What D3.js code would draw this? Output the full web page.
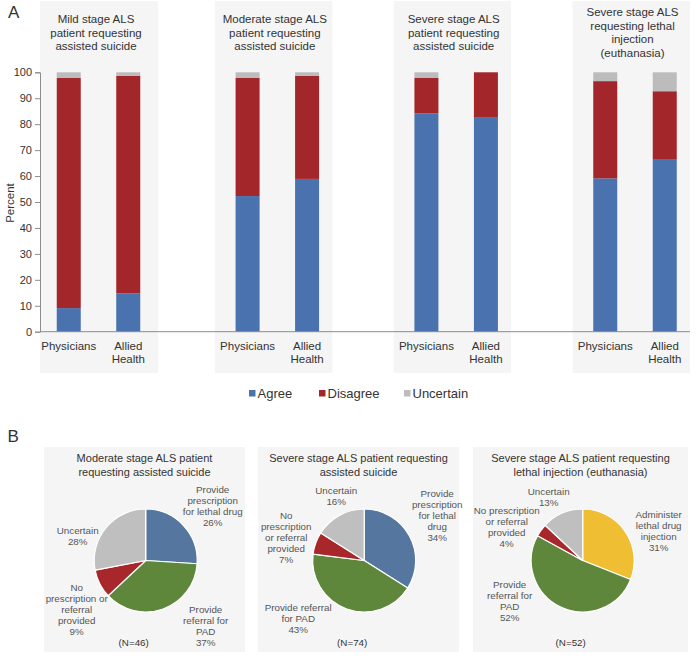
<!DOCTYPE html>
<html><head><meta charset="utf-8">
<script src="https://cdn.jsdelivr.net/npm/d3@7"></script>
<style>
html,body{margin:0;padding:0;background:#fff;}
svg{display:block;font-family:"Liberation Sans",Arial,sans-serif;}
</style></head>
<body>
<script>
// ---------- DATA ----------
const groupTitles = [
  ["Mild stage ALS", "patient requesting", "assisted suicide"],
  ["Moderate stage ALS", "patient requesting", "assisted suicide"],
  ["Severe stage ALS", "patient requesting", "assisted suicide"],
  ["Severe stage ALS", "requesting lethal", "injection", "(euthanasia)"]
];
const roles = ["Physicians", "Allied Health"];
const seriesNames = ["Agree", "Disagree", "Uncertain"];
// order: [g1 Phys, g1 Allied, g2 Phys, g2 Allied, ...]
const agree     = [9.1, 14.8, 52.3, 58.9, 84.2, 82.5, 59.1, 66.3];
const disagree  = [88.7, 83.9, 45.5, 39.8, 13.6, 17.5, 37.5, 26.4];
const uncertain = [2.2, 1.3, 2.2, 1.3, 2.2, 0.0, 3.4, 7.3];
const yTicks = [0,10,20,30,40,50,60,70,80,90,100];

const pieTitles = [
  ["Moderate stage ALS patient", "requesting assisted suicide"],
  ["Severe stage ALS patient requesting", "assisted suicide"],
  ["Severe stage ALS patient requesting", "lethal injection (euthanasia)"]
];
const pieN = ["(N=46)", "(N=74)", "(N=52)"];
const pieCategories = [
  ["Provide prescription for lethal drug", "Provide referral for PAD", "No prescription or referral provided", "Uncertain"],
  ["Provide prescription for lethal drug", "Provide referral for PAD", "No prescription or referral provided", "Uncertain"],
  ["Administer lethal drug injection", "Provide referral for PAD", "No prescription or referral provided", "Uncertain"]
];
const pieValues = [
  [26, 37, 9, 28],
  [34, 43, 7, 16],
  [31, 52, 4, 13]
];
// label line breaks (text only)
const pieLabelLines = [
  [["Provide","prescription","for lethal drug","26%"], ["Provide","referral for","PAD","37%"], ["No","prescription or","referral","provided","9%"], ["Uncertain","28%"]],
  [["Provide","prescription","for lethal","drug","34%"], ["Provide referral","for PAD","43%"], ["No","prescription","or referral","provided","7%"], ["Uncertain","16%"]],
  [["Administer","lethal drug","injection","31%"], ["Provide","referral for","PAD","52%"], ["No prescription","or referral","provided","4%"], ["Uncertain","13%"]]
];

// ---------- STYLE / LAYOUT ----------
const barColors = {Agree:"#4a72ae", Disagree:"#a3262b", Uncertain:"#bcbcbc"};
const pieColorSets = [
  ["#54769f", "#5f873c", "#a8272b", "#bfbfbf"],
  ["#54769f", "#5f873c", "#a8272b", "#bfbfbf"],
  ["#efbe32", "#5f873c", "#a8272b", "#bfbfbf"]
];
// label anchors relative to pie center: [dx, dy of first line center]
const pieLabelOffsets = [
  [[67,-71],[60,49],[-69,27],[-68,-30]],
  [[73,-67],[-66,47],[-78,-45],[-28,-70]],
  [[76,-46],[-73,24],[-76,-50],[-34,-69]]
];

const W = 696, H = 659;
const svg = d3.select("body").append("svg").attr("width", W).attr("height", H);
const textCol = "#333333";

// ---------- PANEL A ----------
const y = d3.scaleLinear().domain([0,100]).range([331.7, 72.3]);
const gx = d3.scalePoint().domain(d3.range(4)).range([98.5, 635]);
const rx = d3.scalePoint().domain(roles).range([-29.75, 29.75]);
const barW = 24;

// backgrounds
groupTitles.forEach((t,i)=>{
  const c = gx(i);
  const x0 = Math.max(40, c - 62.5);
  const x1 = i === 0 ? c + 59.5 : c + 55;
  svg.append("rect").attr("x", x0).attr("y", 1).attr("width", x1 - x0).attr("height", 372)
    .attr("fill", "#f5f5f5");
  const lh = 13.5;
  const y0 = t.length === 4 ? 12.3 : 19.3;
  const tt = svg.append("text").attr("x", c - 2.5).attr("text-anchor","middle")
    .attr("font-size", 11.5).attr("fill", textCol);
  t.forEach((line,k)=>{
    tt.append("tspan").attr("x", c - 2.5).attr("y", y0 + k*lh).attr("dominant-baseline","central").text(line);
  });
});

// stacked data
const rows = agree.map((a,i)=>({g: Math.floor(i/2), role: roles[i%2], Agree:a, Disagree:disagree[i], Uncertain:uncertain[i]}));
const stack = d3.stack().keys(seriesNames)(rows);
svg.append("g").selectAll("g").data(stack).join("g")
  .attr("fill", d=>barColors[d.key])
  .selectAll("rect").data(d=>d).join("rect")
  .attr("x", d=>gx(d.data.g) + rx(d.data.role) - barW/2)
  .attr("width", barW)
  .attr("y", d=>y(d[1]))
  .attr("height", d=>Math.max(0, y(d[0]) - y(d[1])));

// y axis
const yAxis = svg.append("g").attr("transform","translate(40,0)")
  .call(d3.axisLeft(y).tickValues(yTicks).tickSize(5).tickPadding(3));
yAxis.select(".domain").attr("stroke","#8c8c8c");
yAxis.selectAll(".tick line").attr("stroke","#8c8c8c");
yAxis.selectAll(".tick text").attr("font-size", 11).attr("fill", textCol).attr("font-family","Liberation Sans, Arial, sans-serif");

// baseline
svg.append("line").attr("x1",40).attr("x2",690).attr("y1",y(0)).attr("y2",y(0))
  .attr("stroke","#8c8c8c").attr("stroke-width",1);

// x labels
rows.forEach(r=>{
  const cx = gx(r.g) + rx(r.role);
  const words = r.role === "Allied Health" ? ["Allied","Health"] : [r.role];
  const t = svg.append("text").attr("text-anchor","middle").attr("font-size",11.5).attr("fill",textCol);
  words.forEach((w,k)=>t.append("tspan").attr("x",cx).attr("y",345.7 + k*12.8).attr("dominant-baseline","central").text(w));
});

// y title
svg.append("text").attr("transform","translate(10,203) rotate(-90)")
  .attr("text-anchor","middle").attr("dominant-baseline","central")
  .attr("font-size",11.5).attr("fill",textCol).text("Percent");

// panel letters
svg.append("text").attr("x",8).attr("y",12.5).attr("dominant-baseline","central")
  .attr("font-size",17).attr("fill",textCol).text("A");
svg.append("text").attr("x",7.5).attr("y",436.7).attr("dominant-baseline","central")
  .attr("font-size",17).attr("fill",textCol).text("B");

// legend
const legX = [249, 319, 404];
seriesNames.forEach((s,i)=>{
  svg.append("rect").attr("x",legX[i]).attr("y",390).attr("width",6.5).attr("height",6.5).attr("fill",barColors[s]);
  svg.append("text").attr("x",legX[i]+8.5).attr("y",393.5).attr("dominant-baseline","central")
    .attr("font-size",13).attr("fill",textCol).text(s);
});

// ---------- PANEL B ----------
const pcx = d3.scalePoint().domain(d3.range(3)).range([145.7, 582.7]);
const pcy = 560.5;
const R = 51.5;
const pie = d3.pie().sort(null).value(d=>d);
const arc = d3.arc().innerRadius(0).outerRadius(R);
const panelBounds = [[44,245],[258,459],[473,688]];

pieValues.forEach((vals,i)=>{
  const cx = pcx(i);
  svg.append("rect").attr("x",panelBounds[i][0]).attr("y",447)
    .attr("width",panelBounds[i][1]-panelBounds[i][0]).attr("height",205).attr("fill","#f5f5f5");
  const tt = svg.append("text").attr("text-anchor","middle").attr("font-size",11).attr("fill",textCol);
  const tcx = (panelBounds[i][0]+panelBounds[i][1])/2;
  pieTitles[i].forEach((l,k)=>tt.append("tspan").attr("x",tcx).attr("y",458 + k*13.5).attr("dominant-baseline","central").text(l));

  const g = svg.append("g").attr("transform",`translate(${cx},${pcy})`);
  g.selectAll("path").data(pie(vals)).join("path")
    .attr("d",arc).attr("fill",(d,j)=>pieColorSets[i][j])
    .attr("stroke","#ffffff").attr("stroke-width",1.2).attr("stroke-linejoin","round");

  pieLabelLines[i].forEach((lines,j)=>{
    const [dx,dy] = pieLabelOffsets[i][j];
    const t = svg.append("text").attr("text-anchor","middle").attr("font-size",9.8).attr("fill","#555555");
    lines.forEach((l,k)=>t.append("tspan").attr("x",cx+dx).attr("y",pcy+dy+k*11).attr("dominant-baseline","central").text(l));
  });

  svg.append("text").attr("x",cx - 12).attr("y",642).attr("text-anchor","middle")
    .attr("dominant-baseline","central").attr("font-size",9.8).attr("fill",textCol).text(pieN[i]);
});
</script>
</body></html>
